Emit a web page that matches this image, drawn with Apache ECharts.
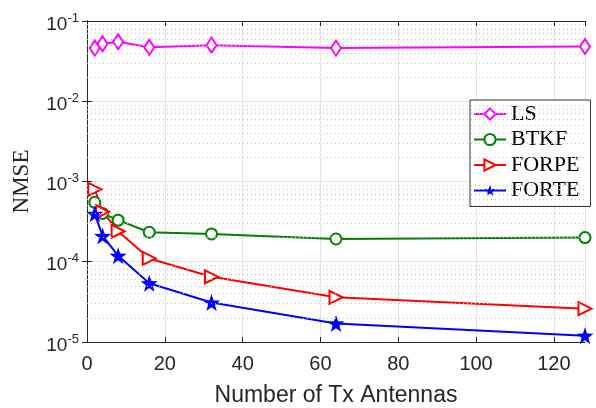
<!DOCTYPE html>
<html>
<head>
    <meta charset="utf-8" />
    <title>NMSE vs Tx antennas</title>
    <script src="https://cdn.jsdelivr.net/npm/echarts@6/dist/echarts.min.js"></script>
</head>
<body style="margin:0">
<div id="main" style="width: 596px;height:408px;"></div>
<script type="text/javascript">
    // 数据
    var antennas = [2, 4, 8, 16, 32, 64, 128];
    var lsVals = [0.046, 0.052, 0.055, 0.047, 0.050, 0.046, 0.048];
    var btkfVals = [5.5e-4, 4.0e-4, 3.3e-4, 2.33e-4, 2.22e-4, 1.92e-4, 2.0e-4];
    var forpeVals = [8.0e-4, 4.2e-4, 2.4e-4, 1.1e-4, 6.5e-5, 3.6e-5, 2.6e-5];
    var forteVals = [3.95e-4, 2.1e-4, 1.19e-4, 5.4e-5, 3.1e-5, 1.7e-5, 1.2e-5];
    var decades = [-5, -4, -3, -2];

    var myChart = echarts.init(document.getElementById('main'));

    function pairs(ys) {
        return antennas.map(function (x, i) { return [x, ys[i]]; });
    }

    // 次要网格线 (2..9 x 10^d)
    var minorLines = [];
    decades.forEach(function (d) {
        for (var k = 2; k <= 9; k++) {
            minorLines.push({ yAxis: k * Math.pow(10, d) });
        }
    });

    var star = 'path://M0,-10 L2.35,-3.24 L9.51,-3.09 L3.8,1.24 L5.88,8.09 L0,4 L-5.88,8.09 L-3.8,1.24 L-9.51,-3.09 L-2.35,-3.24 Z';
    var sans = 'Liberation Sans';
    var serif = 'Liberation Serif';
    var axisColor = '#262626';

    var logAxisBase = {
        type: 'log',
        logBase: 10,
        min: 1e-5,
        max: 1e-1,
        axisLine: { show: true, lineStyle: { color: axisColor, width: 1 } },
        axisTick: { show: true, inside: true, length: 5, lineStyle: { color: axisColor } },
        splitLine: { show: false },
        minorTick: { show: false },
        minorSplitLine: { show: false }
    };

    var option = {
        animation: false,
        grid: { left: 87, right: 11, top: 21, bottom: 66, outerBoundsMode: 'none', containLabel: false },
        legend: {
            orient: 'vertical',
            left: 470,
            top: 100,
            padding: [3, 11, 5, 3],
            itemGap: 3.5,
            itemWidth: 32,
            itemHeight: 14,
            backgroundColor: '#ffffff',
            borderColor: '#333333',
            borderWidth: 1,
            textStyle: { fontFamily: serif, fontSize: 22, color: '#000' },
            data: ['LS', 'BTKF', 'FORPE', 'FORTE']
        },
        xAxis: [{
            type: 'value',
            min: 0,
            max: 128,
            interval: 20,
            name: 'Number of Tx Antennas',
            nameLocation: 'middle',
            nameGap: 42,
            nameTextStyle: { fontFamily: sans, fontSize: 23, color: axisColor },
            axisLine: { show: true, lineStyle: { color: axisColor } },
            axisTick: { show: true, inside: true, length: 5, lineStyle: { color: axisColor } },
            axisLabel: { fontFamily: sans, fontSize: 20, color: axisColor, margin: 12, showMaxLabel: false },
            splitLine: { show: true, lineStyle: { color: '#e3e3e3', width: 1 } }
        }, {
            type: 'value',
            position: 'top',
            min: 0,
            max: 128,
            interval: 20,
            axisLine: { show: true, lineStyle: { color: axisColor } },
            axisTick: { show: true, inside: true, length: 5, lineStyle: { color: axisColor } },
            axisLabel: { show: false },
            splitLine: { show: false }
        }],
        yAxis: [Object.assign({}, logAxisBase, {
            name: 'NMSE',
            nameLocation: 'middle',
            nameGap: 54,
            nameTextStyle: { fontFamily: serif, fontSize: 23, color: axisColor },
            splitLine: { show: true, lineStyle: { color: '#e3e3e3', width: 1 } },
            axisLabel: {
                margin: 8,
                formatter: function (v) {
                    return '{b|10}{s|' + Math.round(Math.log10(v)) + '}';
                },
                rich: {
                    b: { fontFamily: sans, fontSize: 19, color: axisColor, lineHeight: 19, padding: [7, 0, 0, 0] },
                    s: { fontFamily: sans, fontSize: 13, color: axisColor, lineHeight: 13, verticalAlign: 'top' }
                }
            }
        }), Object.assign({}, logAxisBase, {
            position: 'right',
            axisLabel: { show: false }
        })],
        series: [
            {
                name: 'minor',
                type: 'line',
                data: [],
                silent: true,
                markLine: {
                    silent: true,
                    precision: 10,
                    symbol: 'none',
                    label: { show: false },
                    lineStyle: { color: '#c4c4c4', type: [1, 3], width: 1 },
                    data: minorLines
                }
            },
            {
                name: 'LS', type: 'line', data: pairs(lsVals),
                color: '#ff00ff',
                symbol: 'emptyDiamond', symbolSize: [10, 15],
                lineStyle: { width: 2 }, itemStyle: { borderWidth: 2 }
            },
            {
                name: 'BTKF', type: 'line', data: pairs(btkfVals),
                color: '#008000',
                symbol: 'emptyCircle', symbolSize: 11,
                lineStyle: { width: 2 }, itemStyle: { borderWidth: 2 }
            },
            {
                name: 'FORPE', type: 'line', data: pairs(forpeVals),
                color: '#ff0000',
                symbol: 'emptyTriangle', symbolSize: 13, symbolRotate: -90,
                lineStyle: { width: 2 }, itemStyle: { borderWidth: 2 }
            },
            {
                name: 'FORTE', type: 'line', data: pairs(forteVals),
                color: '#0000ff',
                symbol: star, symbolSize: 17,
                lineStyle: { width: 2 }, itemStyle: { borderWidth: 0 }
            }
        ]
    };
    myChart.setOption(option);
</script>
</body>
</html>
